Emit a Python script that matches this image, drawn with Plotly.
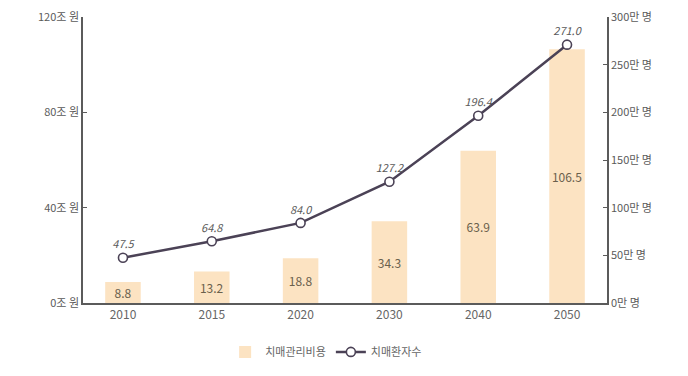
import plotly.graph_objects as go

# Dementia care cost (trillion won) and number of patients (10k persons)
years = ["2010", "2015", "2020", "2030", "2040", "2050"]
cost = [8.8, 13.2, 18.8, 34.3, 63.9, 106.5]
patients = [47.5, 64.8, 84.0, 127.2, 196.4, 271.0]

left_ticks = [0, 40, 80, 120]
left_labels = ["0조 원", "40조 원", "80조 원", "120조 원"]
right_ticks = [0, 50, 100, 150, 200, 250, 300]
right_labels = ["0만 명", "50만 명", "100만 명", "150만 명", "200만 명", "250만 명", "300만 명"]

KR = "Noto Sans CJK KR"
AXIS = "#5b5b5b"

fig = go.Figure()

fig.add_trace(go.Bar(
    x=years, y=cost, name="치매관리비용",
    marker=dict(color="#fce3c2", line=dict(width=0)),
    width=0.4,
    texttemplate="%{y:.1f}", textposition="inside", insidetextanchor="middle",
    textangle=0, constraintext="none",
    textfont=dict(family=KR, size=12, color="#6a604c"),
    yaxis="y",
))

fig.add_trace(go.Scatter(
    x=years, y=patients, name="치매환자수", mode="lines+markers+text",
    line=dict(color="#4b4256", width=2.5),
    marker=dict(size=9, color="white", line=dict(color="#4b4256", width=1.6)),
    texttemplate="<i>%{y:.1f}</i>", textposition="top center",
    textfont=dict(family=KR, size=11, color="#5a5a5a"),
    yaxis="y2",
))

fig.update_layout(
    width=688, height=376,
    margin=dict(l=83, r=81, t=17, b=73, autoexpand=False),
    paper_bgcolor="white", plot_bgcolor="white",
    font=dict(family=KR, color="#555555", size=11),
    showlegend=True,
    legend=dict(orientation="h", x=0.464, xanchor="center", y=-0.171, yanchor="middle",
                font=dict(family=KR, size=11, color="#666666"),
                itemwidth=30, tracegroupgap=0),
    xaxis=dict(showline=True, linecolor=AXIS, linewidth=1.5, showgrid=False,
               ticks="", tickfont=dict(size=12, color="#666666"),
               range=[-0.45, 5.45]),
    yaxis=dict(range=[0, 120], tickvals=left_ticks, ticktext=left_labels,
               showline=True, linecolor=AXIS, linewidth=1.5, showgrid=False,
               zeroline=False, ticks="inside", ticklen=4, tickcolor=AXIS,
               tickfont=dict(size=11, color="#5a5a5a")),
    yaxis2=dict(range=[0, 300], tickvals=right_ticks, ticktext=right_labels,
                overlaying="y", side="right",
                showline=True, linecolor=AXIS, linewidth=1.5, showgrid=False,
                zeroline=False, ticks="inside", ticklen=4, tickcolor=AXIS,
                tickfont=dict(size=11, color="#5a5a5a")),
)

fig.write_html("out.html")
